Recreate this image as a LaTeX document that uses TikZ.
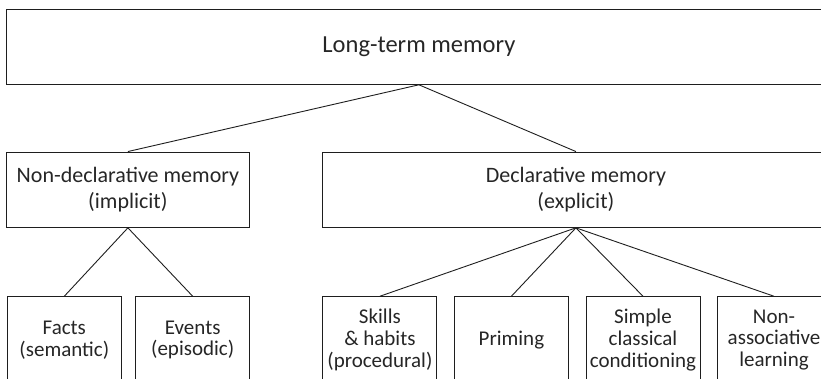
\documentclass[tikz,border=0pt]{standalone}
\usepackage{fontspec}
\setmainfont{Carlito}
\definecolor{linegray}{HTML}{1E1E1E}
\definecolor{textgray}{HTML}{262626}
\begin{document}
\begin{tikzpicture}[x=1pt,y=-1pt,
  box/.style={draw=linegray, line width=1pt, rectangle, inner sep=0pt,
              align=center, text=textgray},
  topbox/.style={box, font=\fontsize{24.5}{29}\selectfont},
  midbox/.style={box, minimum height=75.3pt, font=\fontsize{22}{26}\selectfont},
  leafbox/.style={box, minimum width=114pt, minimum height=86.3pt,
                  font=\fontsize{21}{21.8}\selectfont},
  link/.style={draw=linegray, line width=0.9pt}]
\useasboundingbox (0,0) rectangle (821,379);
\clip (0,0) rectangle (821,379);

% root
\node[topbox, minimum width=824.3pt, minimum height=75pt] (ltm) at (418.9,46.8) {Long-term memory};

% second level
\node[midbox, minimum width=242.3pt] (nondecl) at (127.9,189.7) {Non-declarative memory\\(implicit)};
\node[midbox, minimum width=506.3pt] (decl) at (575.9,189.7) {Declarative memory\\(explicit)};

% leaves
\node[leafbox] (facts)    at (64.3,339.9)  {Facts\\(semantic)};
\node[leafbox] (events)   at (192.7,339.9) {Events\\(episodic)};
\node[leafbox] (skills)   at (379.9,339.9) {Skills\\\& habits\\(procedural)};
\node[leafbox] (priming)  at (511.4,339.9) {Priming};
\node[leafbox] (simple)   at (643,339.9)   {Simple\\classical\\conditioning};
\node[leafbox] (nonassoc) at (774,339.9)   {Non-\\associative\\learning};

% connectors
\draw[link] (ltm.south) -- (nondecl.north);
\draw[link] (ltm.south) -- (decl.north);
\draw[link] (nondecl.south) -- (facts.north);
\draw[link] (nondecl.south) -- (events.north);
\foreach \leaf in {skills,priming,simple,nonassoc}
  \draw[link] (decl.south) -- (\leaf.north);
\end{tikzpicture}
\end{document}
